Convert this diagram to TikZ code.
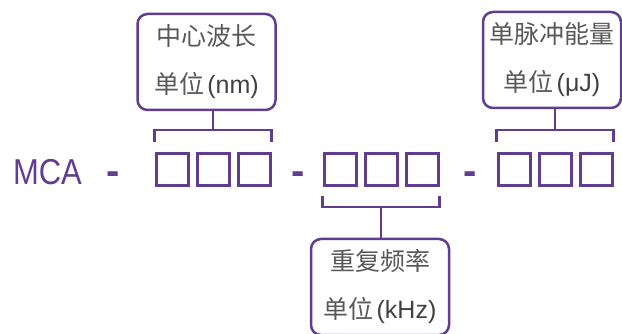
\documentclass[tikz,border=0pt]{standalone}
\usepackage{fontspec}
\setmainfont{Liberation Sans}
\newfontfamily\cjk{Noto Sans CJK SC}
\usetikzlibrary{positioning}
\definecolor{mcapurple}{RGB}{96,61,145}
\definecolor{tagtext}{RGB}{64,64,64}
\definecolor{cjktext}{RGB}{88,88,88}

\begin{document}
\begin{tikzpicture}[x=1pt,y=-1pt,
		every node/.style={
				font=\fontsize{25}{48}\selectfont,
				text=tagtext,
			},
		cell/.style={draw=mcapurple, line width=3pt, minimum size=32pt, inner sep=0pt},
		brk/.style={draw=mcapurple, line width=2.5pt},
		tagbox/.style={draw=mcapurple, line width=2.5pt, rounded corners=10pt,
				align=center, inner sep=0pt, minimum width=138pt, minimum height=96pt},
		sepmark/.style={text=mcapurple, anchor=base, font=\fontsize{40}{40}\selectfont\bfseries},
	]
	\useasboundingbox (0,0) rectangle (622,334);

	% code: MCA - ### - ### - ###
	\node[text=mcapurple, anchor=base, font=\fontsize{36}{36}\selectfont] (mca) at (47.5,185) {\scalebox{0.86}[1]{MCA}};
	\node[sepmark] (sep1) at (113.5,185) {-};
	\node[sepmark] (sep2) at (298,185) {-};
	\node[sepmark] (sep3) at (470,185) {-};
	\foreach \g/\cx in {a/213, b/381, c/555} {
			\foreach \i in {1,2,3} {
					\node[cell] (\g\i) at ({\cx+(\i-2)*41},169.5) {};
				}
		}

	% labels
	\node[tagbox] (lambdatag) at (206.5,62) {{\cjk\color{cjktext}中心波长}\\{\cjk\color{cjktext}单位}\hspace{3pt}(nm)};
	\node[tagbox] (freqtag) at (380,287) {{\cjk\color{cjktext}重复频率}\\{\cjk\color{cjktext}单位}\hspace{3pt}(kHz)};
	\node[tagbox] (energytag) at (552,60) {{\cjk\color{cjktext}单脉冲能量}\\{\cjk\color{cjktext}单位}\hspace{3pt}(μJ)};

	% brackets
	\draw[brk] ([yshift=10pt]a1.north west) -- ++(0,-12) -| ([yshift=10pt]a3.north east);
	\draw[brk] ([yshift=22pt]a2.north) -- (a2.north |- lambdatag.south);
	\draw[brk] ([yshift=-9pt]b1.south west) -- ++(0,11) -| ([yshift=-9pt]b3.south east);
	\draw[brk] ([yshift=-20pt]b2.south) -- (b2.south |- freqtag.north);
	\draw[brk] ([yshift=10pt]c1.north west) -- ++(0,-12) -| ([yshift=10pt]c3.north east);
	\draw[brk] ([yshift=22pt]c2.north) -- (c2.north |- energytag.south);
\end{tikzpicture}
\end{document}
